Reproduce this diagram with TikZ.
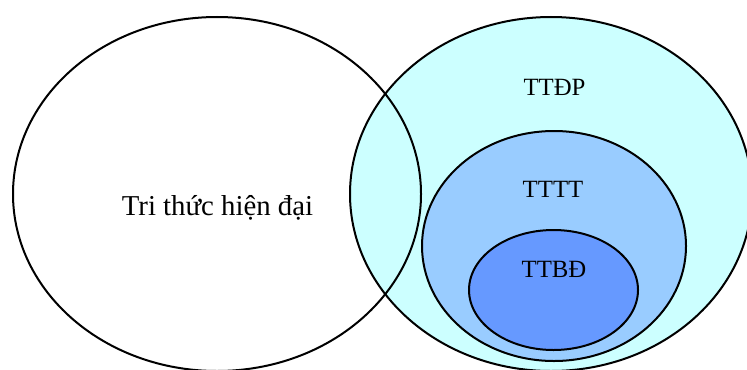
\documentclass[tikz,border=0pt]{standalone}
\usepackage{fontspec}
\setmainfont{Liberation Serif}
\definecolor{outerfill}{HTML}{CCFFFF}
\definecolor{midfill}{HTML}{99CCFF}
\definecolor{innerfill}{HTML}{6699FF}
\begin{document}
\begin{tikzpicture}[x=0.5pt,y=-0.5pt,
  ring/.style={draw=black,line width=1pt},
  lbl/.style={font=\fontsize{12.4}{14}\selectfont,inner sep=0pt,anchor=base},
  biglbl/.style={lbl,font=\fontsize{14.4}{17}\selectfont}]
\useasboundingbox (0,0) rectangle (747,369);
\begin{scope}
\clip (0,0) rectangle (747,369);
% nested circles of the right group
\draw[ring,fill=outerfill] (551,194) ellipse [x radius=201,y radius=177];
\draw[ring,fill=midfill] (554,246) ellipse [x radius=132,y radius=115];
\draw[ring,fill=innerfill] (553.5,290) ellipse [x radius=84.5,y radius=60];
% left circle, outline only
\draw[ring] (217,194) ellipse [x radius=204,y radius=177];
\end{scope}
\node[biglbl] (tthd) at (217.5,215) {Tri thức hiện đại};
\node[lbl] (ttdp) at (554.5,95) {TTĐP};
\node[lbl] (tttt) at (553,197) {TTTT};
\node[lbl] (ttbd) at (554,277) {TTBĐ};
\end{tikzpicture}
\end{document}
